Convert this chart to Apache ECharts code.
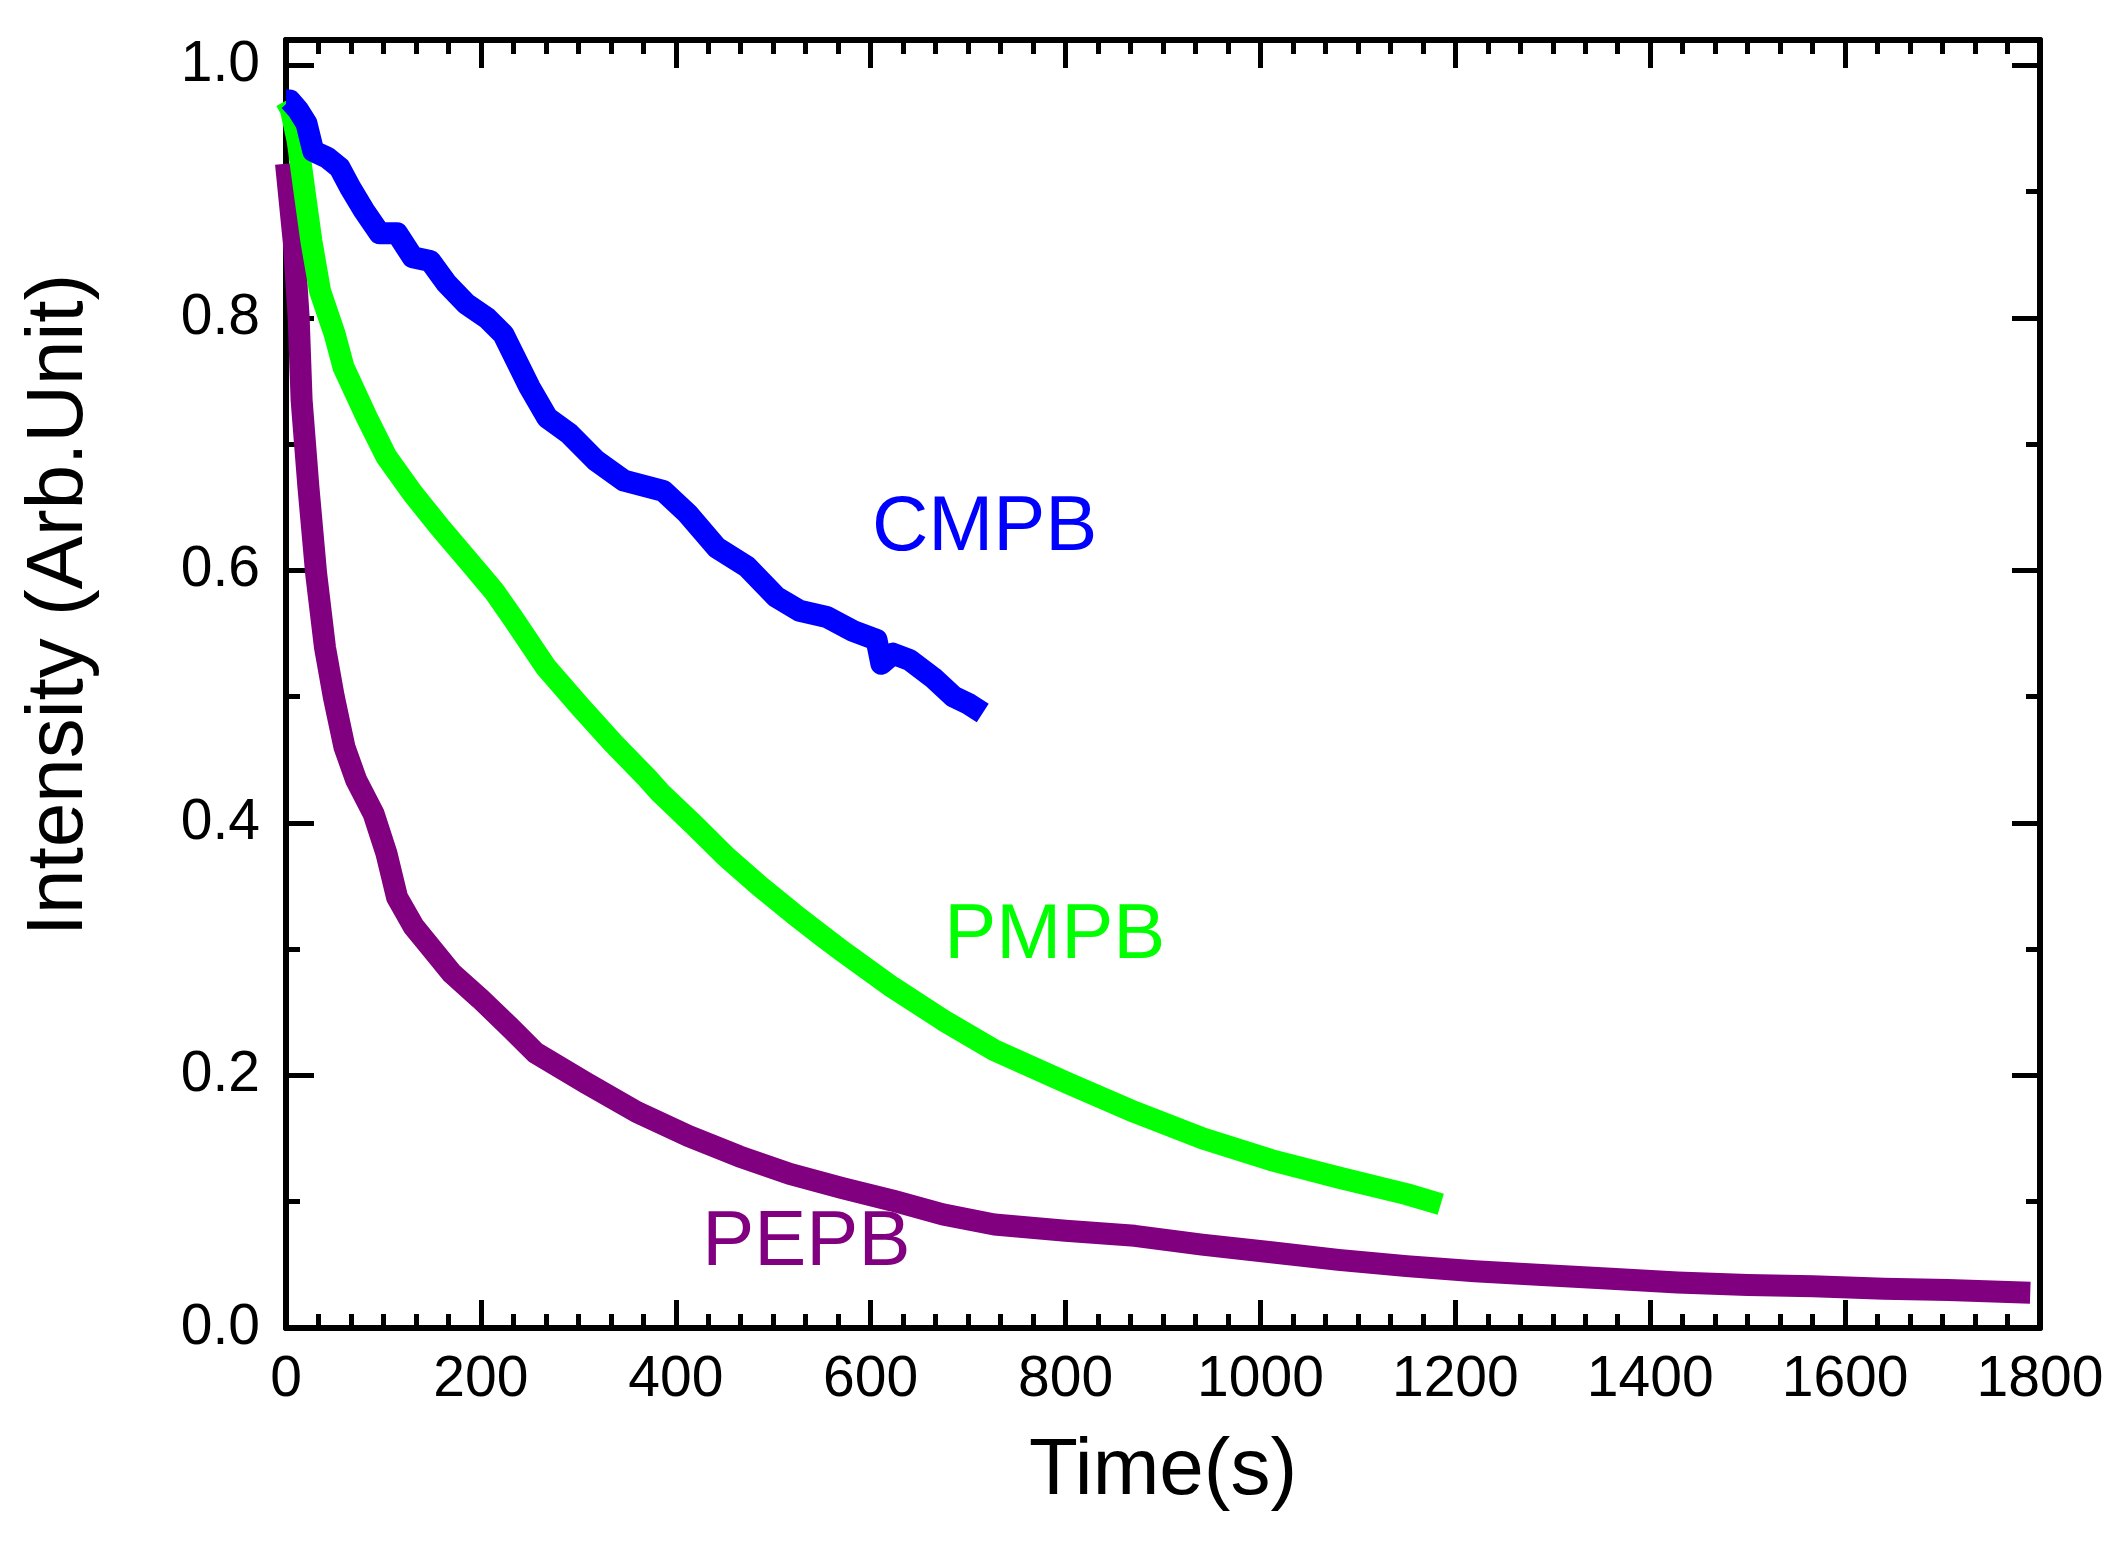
<!DOCTYPE html>
<html>
<head>
<meta charset="utf-8">
<title>Intensity decay</title>
<script src="https://cdn.jsdelivr.net/npm/echarts/dist/echarts.min.js"></script>
<style>
  html, body { margin: 0; padding: 0; background: #fff; }
  #main { width: 2107px; height: 1543px; }
</style>
</head>
<body>
<div id="main"></div>
<script>
// values (time in s, intensity in arb. unit)
const cmpbTime = [0, 4, 12, 21, 28, 42, 55, 66, 80, 96, 114, 130, 148, 165, 185, 206, 223, 250, 268, 291, 318, 347, 387, 412, 442, 473, 503, 527, 555, 582, 606, 611, 623, 640, 664, 685, 701, 715];
const cmpbValue = [0.972, 0.972, 0.965, 0.954, 0.932, 0.927, 0.919, 0.903, 0.885, 0.867, 0.867, 0.848, 0.845, 0.827, 0.811, 0.80, 0.787, 0.745, 0.721, 0.708, 0.687, 0.671, 0.663, 0.645, 0.618, 0.603, 0.579, 0.568, 0.563, 0.552, 0.545, 0.526, 0.534, 0.529, 0.515, 0.50, 0.494, 0.487];

const pmpbTime = [0, 5, 12, 19, 26, 35, 50, 59, 83, 103, 130, 158, 189, 213, 233, 267, 302, 336, 370, 384, 418, 452, 486, 521, 551, 570, 622, 674, 727, 802, 871, 941, 1011, 1081, 1150, 1185];
const pmpbValue = [0.972, 0.965, 0.940, 0.90, 0.861, 0.821, 0.787, 0.761, 0.721, 0.690, 0.661, 0.634, 0.606, 0.584, 0.562, 0.523, 0.492, 0.463, 0.436, 0.424, 0.399, 0.373, 0.350, 0.328, 0.310, 0.299, 0.270, 0.244, 0.220, 0.194, 0.171, 0.150, 0.133, 0.119, 0.106, 0.098];

const pepbTime = [0, 8, 13, 16, 23, 31, 40, 49, 60, 72, 90, 103, 114, 131, 151, 170, 199, 230, 256, 308, 360, 413, 465, 517, 570, 622, 674, 727, 800, 871, 940, 1011, 1080, 1150, 1220, 1289, 1360, 1428, 1500, 1567, 1640, 1706, 1790];
const pepbValue = [0.922, 0.86, 0.80, 0.735, 0.666, 0.597, 0.539, 0.50, 0.46, 0.434, 0.407, 0.376, 0.341, 0.318, 0.299, 0.281, 0.261, 0.238, 0.218, 0.194, 0.171, 0.152, 0.136, 0.122, 0.111, 0.101, 0.090, 0.082, 0.077, 0.073, 0.066, 0.060, 0.054, 0.049, 0.045, 0.042, 0.039, 0.036, 0.034, 0.033, 0.031, 0.030, 0.028];

// curve labels, placed in data coordinates
const labelNames = ['CMPB', 'PMPB', 'PEPB'];
const labelTime = [717, 789, 534];
const labelValue = [0.633, 0.31, 0.067];

// axis ranges and tick steps
const xRange = [0, 1800];
const xStep = 200;
const yRange = [0, 1.02];
const yStep = 0.2;

const colors = ['#0000ff', '#00ff00', '#800080'];
const tickFont = "'Liberation Sans Narrow', 'Arial Narrow', 'Liberation Sans', sans-serif";
const textFont = "'Liberation Sans', Arial, sans-serif";

const pairs = (xs, ys) => xs.map((x, i) => [x, ys[i]]);

const chartDom = document.getElementById('main');
const myChart = echarts.init(chartDom, null, { renderer: 'canvas' });

const baseAxis = {
    axisLine: { show: true, onZero: false, lineStyle: { color: '#000', width: 6 } },
    axisTick: { show: true, inside: true, length: 28, lineStyle: { color: '#000', width: 5 } },
    minorTick: { show: true, length: 14, lineStyle: { color: '#000', width: 5 } },
    splitLine: { show: false },
    minorSplitLine: { show: false }
};

const xBase = Object.assign({}, baseAxis, {
    type: 'value', min: xRange[0], max: xRange[1], interval: xStep,
    minorTick: Object.assign({}, baseAxis.minorTick, { splitNumber: 6 })
});
const yBase = Object.assign({}, baseAxis, {
    type: 'value', min: yRange[0], max: yRange[1], interval: yStep,
    minorTick: Object.assign({}, baseAxis.minorTick, { splitNumber: 2 })
});

const lineSeries = (name, xs, ys, color) => ({
    name: name,
    type: 'line',
    data: pairs(xs, ys),
    showSymbol: false,
    symbol: 'none',
    lineStyle: { color: color, width: 22, join: 'round' },
    itemStyle: { color: color },
    animation: false
});

const option = {
    backgroundColor: '#fff',
    animation: false,
    grid: { left: 286, right: 67, top: 40, bottom: 215 },
    xAxis: [
        Object.assign({}, xBase, {
            position: 'bottom',
            axisLabel: { color: '#000', fontSize: 57, fontFamily: tickFont, margin: 24, formatter: v => String(v) },
            name: 'Time(s)',
            nameLocation: 'middle',
            nameGap: 104,
            nameTextStyle: { color: '#000', fontSize: 80, fontFamily: textFont }
        }),
        Object.assign({}, xBase, {
            position: 'top',
            axisLabel: { show: false }
        })
    ],
    yAxis: [
        Object.assign({}, yBase, {
            position: 'left',
            axisLabel: {
                color: '#000', fontSize: 57, fontFamily: tickFont, margin: 26,
                showMaxLabel: false,
                formatter: v => (v > 1.001 ? '' : v.toFixed(1))
            }
        }),
        Object.assign({}, yBase, {
            position: 'right',
            axisLabel: { show: false }
        })
    ],
    graphic: [
        {
            type: 'text',
            x: 60,
            y: 605,
            rotation: Math.PI / 2,
            style: {
                text: 'Intensity (Arb.Unit)',
                fontSize: 80,
                fontFamily: textFont,
                fill: '#000',
                align: 'center',
                verticalAlign: 'middle'
            }
        }
    ],
    series: [
        lineSeries('PEPB', pepbTime, pepbValue, colors[2]),
        lineSeries('PMPB', pmpbTime, pmpbValue, colors[1]),
        lineSeries('CMPB', cmpbTime, cmpbValue, colors[0]),
        {
            name: 'labels',
            type: 'scatter',
            symbolSize: 0,
            silent: true,
            animation: false,
            itemStyle: { opacity: 1 },
            data: labelNames.map((n, i) => ({
                name: n,
                value: [labelTime[i], labelValue[i]],
                label: { color: colors[i] }
            })),
            label: {
                show: true,
                position: 'inside',
                formatter: p => p.name,
                fontSize: 78,
                fontFamily: textFont,
                opacity: 1,
                textBorderWidth: 0
            }
        }
    ]
};

option && myChart.setOption(option);
</script>
</body>
</html>
